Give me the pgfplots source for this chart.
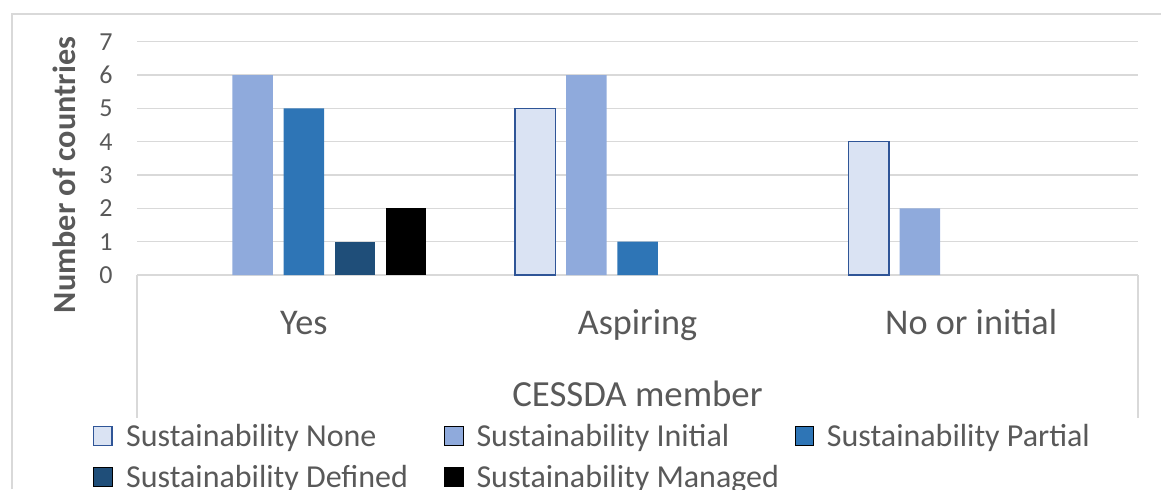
\documentclass[border=0pt]{standalone}
\usepackage{pgfplots}
\pgfplotsset{compat=1.18}
\usepackage{fontspec}
\setmainfont{Carlito}

\definecolor{txt}{HTML}{595959}
\definecolor{gridc}{HTML}{D9D9D9}
\definecolor{cNone}{HTML}{DAE3F3}
\definecolor{cNoneB}{HTML}{2F5597}
\definecolor{cInit}{HTML}{8FAADC}
\definecolor{cPart}{HTML}{2E75B6}
\definecolor{cDef}{HTML}{1F4E79}
\definecolor{cMan}{HTML}{000000}

\pgfplotsset{
  sq/.style={legend image code/.code={%
      \draw[##1] (0pt,-4.2pt) rectangle (9.35pt,5.15pt);
      \path (16pt,0pt);}},
}

\begin{document}
\begin{tikzpicture}
\useasboundingbox (0pt,0pt) rectangle (580.5pt,244.5pt);
\clip (0pt,0pt) rectangle (580.5pt,244.5pt);
% chart frame
\draw[line width=0.75pt, gridc] (6pt,0pt) -- (6pt,237.5pt) -- (580.5pt,237.5pt);
\begin{axis}[
  at={(68.5pt,107pt)}, anchor=south west,
  scale only axis, width=500.5pt, height=116.67pt,
  clip=false,
  ymin=0, ymax=7, xmin=-0.5, xmax=2.5,
  ytick={0,...,7},
  xtick={0,1,2},
  xticklabels={Yes,Aspiring,No or initial},
  major tick length=0pt,
  tick style={draw=none},
  ymajorgrids,
  grid style={line width=0.65pt, color=gridc},
  axis line style={draw=none},
  /pgf/number format/assume math mode=true,
  yticklabel style={font=\fontsize{13}{13}\selectfont, text=txt, inner sep=0pt, xshift=-12pt},
  xticklabel style={font=\fontsize{18.1}{18.1}\selectfont, text=txt, anchor=base, inner sep=0pt, yshift=-29.5pt},
  xlabel={CESSDA member},
  xlabel style={at={(axis description cs:0.5,0)}, anchor=base, inner sep=0pt, yshift=-65.5pt,
    font=\fontsize{18.4}{18.4}\selectfont, text=txt},
  ylabel={Number of countries},
  ylabel style={at={(axis description cs:-0.0619,0.4286)}, anchor=base, inner sep=0pt,
    font=\bfseries\fontsize{16.1}{16.1}\selectfont, text=txt},
  ybar, bar width=20.25pt,
  legend columns=3,
  legend cell align=left,
  legend style={at={(axis description cs:-0.0443,-0.640)}, anchor=north west,
    draw=none, fill=none, inner sep=0pt, outer sep=0pt,
    column sep=0pt, row sep=8pt,
    font=\fontsize{16}{16}\selectfont, text=txt,
    nodes={inner sep=0pt}},
]
\addplot[sq, fill=cNone, draw=cNoneB, line width=0.75pt, bar shift=-51.2pt]
  coordinates {(1,5) (2,4)};
\addlegendentry{\makebox[159pt][l]{Sustainability None}}
\addplot[sq, fill=cInit, draw=none, bar shift=-25.6pt]
  coordinates {(0,6) (1,6) (2,2)};
\addlegendentry{\makebox[159pt][l]{Sustainability Initial}}
\addplot[sq, fill=cPart, draw=none, bar shift=0pt]
  coordinates {(0,5) (1,1)};
\addlegendentry{Sustainability Partial}
\addplot[sq, fill=cDef, draw=none, bar shift=25.6pt]
  coordinates {(0,1)};
\addlegendentry{\makebox[159pt][l]{Sustainability Defined}}
\addplot[sq, fill=cMan, draw=none, bar shift=51.2pt]
  coordinates {(0,2)};
\addlegendentry{Sustainability Managed}
% category band edges below the axis
\draw[gridc, line width=0.65pt] (axis description cs:0,0) -- ([yshift=-71.5pt]axis description cs:0,0);
\draw[gridc, line width=0.65pt] (axis description cs:1,0) -- ([yshift=-71.5pt]axis description cs:1,0);
\end{axis}
\end{tikzpicture}
\end{document}
